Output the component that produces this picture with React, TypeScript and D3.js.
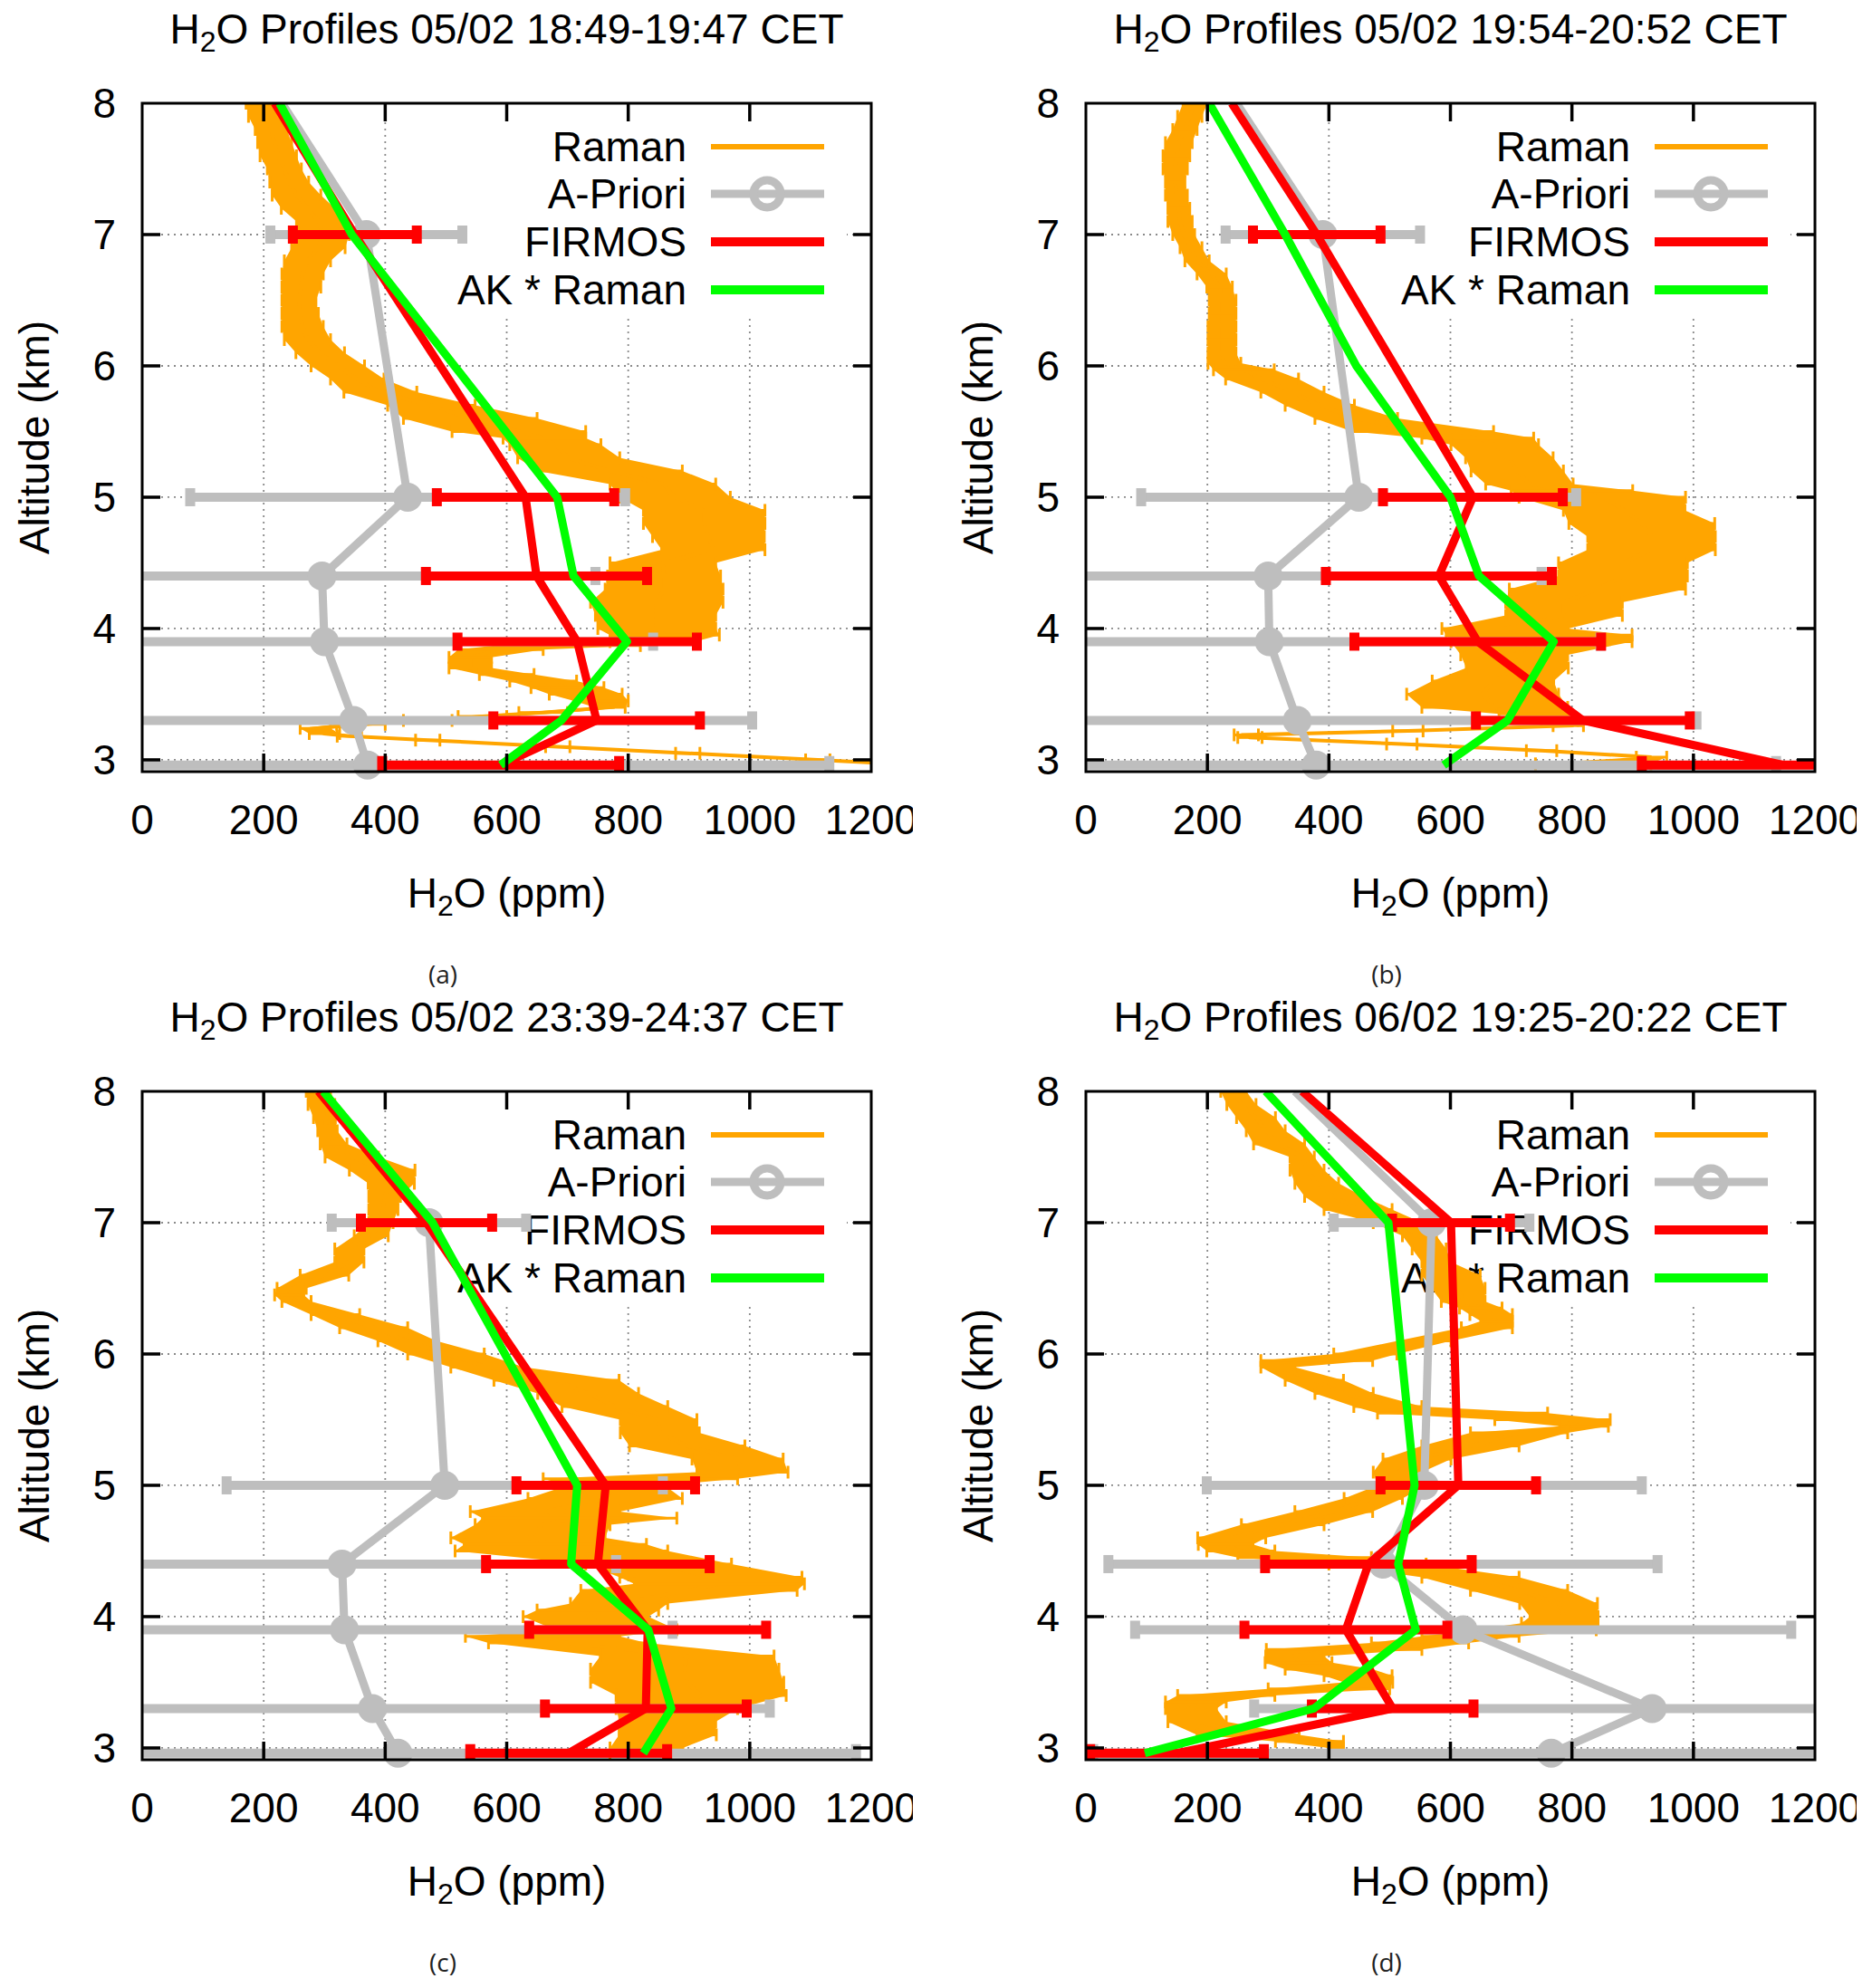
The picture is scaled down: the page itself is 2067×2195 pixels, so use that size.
import React from 'react';
import * as d3 from 'd3';

// ---------- axis / text data ----------
const X_TICKS = [0, 200, 400, 600, 800, 1000, 1200];
const Y_TICKS = [3, 4, 5, 6, 7, 8];
const X_GRID = [200, 400, 600, 800, 1000];
const Y_GRID = [3, 4, 5, 6, 7];
const TITLES = ['05/02 18:49-19:47', '05/02 19:54-20:52', '05/02 23:39-24:37', '06/02 19:25-20:22'];
const LETTERS = ['(a)', '(b)', '(c)', '(d)'];
const LEGEND = ['Raman', 'A-Priori', 'FIRMOS', 'AK * Raman'];

// ---------- Raman profiles: [altitude km, H2O ppm, error ppm] ----------
const RAMAN_A = [
  [8.0,196,25],[7.9,202,27],[7.8,212,26],[7.7,218,28],[7.6,224,30],[7.5,234,28],[7.4,242,32],[7.3,254,40],
  [7.2,273,44],[7.1,290,36],[7.0,297,44],[6.9,290,44],[6.8,272,38],[6.7,264,34],[6.6,262,32],[6.5,258,28],
  [6.4,260,30],[6.3,264,34],[6.2,272,38],[6.1,293,40],[6.0,322,44],[5.9,354,44],[5.8,392,60],[5.7,476,72],
  [5.6,540,110],[5.5,620,110],[5.45,662,68],[5.4,680,75],[5.3,702,84],[5.2,770,119],[5.1,857,87],[5.0,877,91],
  [4.9,925,100],[4.8,925,100],[4.7,932,92],[4.6,940,85],[4.5,857,87],[4.4,859,93],[4.3,859,97],[4.2,847,109],
  [4.1,845,99],[4.0,847,97],[3.95,860,90],[3.9,840,70],[3.87,700,120],[3.84,590,70],[3.78,540,35],[3.7,540,35],
  [3.65,600,45],[3.6,660,55],[3.55,700,60],[3.5,730,60],[3.45,755,45],[3.4,770,25],[3.36,660,40],[3.33,560,40],
  [3.3,470,40],[3.27,360,40],[3.24,285,25],[3.2,300,25],[3.18,341,20],[3.15,470,20],[3.1,684,20],[3.05,898,20],
  [3.0,1112,20],[2.96,1280,20],
];
const RAMAN_B = [
  [8.0,180,20],[7.9,171,20],[7.8,163,20],[7.7,153,22],[7.6,149,22],[7.5,147,20],[7.4,147,16],[7.3,149,18],
  [7.2,153,18],[7.1,155,20],[7.0,161,18],[6.9,173,18],[6.8,183,20],[6.7,207,24],[6.6,220,21],[6.5,225,22],
  [6.4,225,22],[6.3,224,23],[6.2,224,23],[6.1,224,23],[6.02,228,27],[5.97,260,50],[5.9,290,60],[5.8,340,52],
  [5.7,385,57],[5.6,445,68],[5.5,555,116],[5.45,645,92],[5.4,673,72],[5.3,697,72],[5.2,710,76],[5.1,730,72],
  [5.05,800,100],[5.0,850,137],[4.9,886,100],[4.8,915,120],[4.7,931,105],[4.6,931,105],[4.5,884,106],[4.4,884,106],
  [4.3,842,145],[4.2,787,96],[4.1,787,96],[4.0,690,104],[3.95,746,153],[3.9,750,149],[3.8,705,88],[3.7,710,84],
  [3.6,670,100],[3.5,653,125],[3.4,673,120],[3.35,737,57],[3.3,780,30],[3.26,794,25],[3.22,530,25],[3.19,264,20],
  [3.17,270,20],[3.12,520,25],[3.07,750,25],[3.02,931,25],[2.97,835,95],
];
const RAMAN_C = [
  [8.0,290,20],[7.9,295,22],[7.8,300,18],[7.7,305,16],[7.6,315,22],[7.5,345,44],[7.4,395,54],[7.3,410,38],
  [7.2,399,26],[7.1,397,24],[7.0,393,20],[6.9,377,28],[6.8,341,24],[6.7,341,24],[6.6,300,40],[6.5,246,24],
  [6.45,242,24],[6.4,254,24],[6.3,318,40],[6.2,381,56],[6.1,436,48],[6.0,500,63],[5.9,568,60],[5.8,682,103],
  [5.7,734,83],[5.6,778,87],[5.5,850,63],[5.4,852,65],[5.3,897,95],[5.2,980,75],[5.1,988,75],[5.05,820,160],
  [5.0,780,80],[4.9,762,127],[4.8,663,123],[4.75,720,160],[4.7,659,111],[4.6,635,127],[4.55,680,150],[4.5,690,175],
  [4.4,850,120],[4.3,936,150],[4.25,950,140],[4.2,900,178],[4.1,785,80],[4.05,750,100],[4.0,730,103],[3.9,780,100],
  [3.85,659,127],[3.8,700,130],[3.7,897,143],[3.6,893,155],[3.5,897,159],[3.4,920,140],[3.3,880,100],[3.2,865,79],
  [3.1,865,80],[3.0,830,60],[2.96,820,50],
];
const RAMAN_D = [
  [8.0,243,21],[7.9,256,24],[7.8,280,32],[7.7,296,32],[7.6,318,42],[7.5,356,20],[7.4,364,28],[7.3,380,36],
  [7.2,408,48],[7.1,448,56],[7.0,513,40],[6.9,549,28],[6.8,565,28],[6.7,577,24],[6.6,601,48],[6.5,613,44],
  [6.4,621,36],[6.35,650,35],[6.3,667,35],[6.25,676,26],[6.2,660,42],[6.1,557,44],[6.0,460,52],[5.95,380,92],
  [5.9,316,28],[5.8,376,48],[5.7,425,48],[5.6,497,56],[5.55,620,140],[5.5,768,95],[5.45,820,40],[5.4,713,80],
  [5.3,633,80],[5.2,545,56],[5.1,513,40],[5.0,520,40],[4.9,473,48],[4.8,408,64],[4.7,324,68],[4.6,240,56],
  [4.55,230,45],[4.5,255,56],[4.45,360,110],[4.4,480,80],[4.3,633,80],[4.2,713,80],[4.1,778,64],[4.0,787,56],
  [3.95,780,63],[3.9,740,100],[3.85,633,80],[3.8,550,80],[3.75,425,128],[3.7,344,48],[3.65,350,55],[3.6,400,72],
  [3.55,448,56],[3.5,465,40],[3.45,400,100],[3.4,231,80],[3.35,181,50],[3.3,173,42],[3.2,183,48],[3.1,267,84],
  [3.05,368,56],[3.0,412,12],
];

// ---------- A-Priori: [alt, ppm]  and errors [alt, delta] ----------
const APRIORI_A = [[8,230],[7,369],[5,437],[4.4,296],[3.9,300],[3.3,348],[2.96,371]];
const APRIORI_B = [[8,248],[7,390],[5,449],[4.4,300],[3.9,302],[3.3,348],[2.96,379]];
const APRIORI_C = [[8,298],[7,472],[5,498],[4.4,329],[3.9,333],[3.3,379],[2.96,421]];
const APRIORI_D = [[8,344],[7,569],[5,557],[4.4,489],[3.9,621],[3.3,932],[2.96,766]];
const APRIORI_ERR_A = [[7,158],[5,358],[4.4,450],[3.9,541],[3.3,656],[2.96,760]];
const APRIORI_ERR_B = [[7,160],[5,358],[4.4,450],[3.9,545],[3.3,657],[2.96,757]];
const APRIORI_ERR_C = [[7,160],[5,359],[4.4,451],[3.9,540],[3.3,654],[2.96,754]];
const APRIORI_ERR_D = [[7,161],[5,358],[4.4,452],[3.9,540],[3.3,655],[2.96,754]];

// ---------- FIRMOS retrieval ----------
const FIRMOS_A = [[8,218],[7,350],[5,631],[4.4,649],[3.9,716],[3.3,748],[2.96,590]];
const FIRMOS_B = [[8,240],[7,380],[5,637],[4.4,581],[3.9,645],[3.3,818],[2.96,1148]];
const FIRMOS_C = [[8,290],[7,468],[5,763],[4.4,750],[3.9,832],[3.3,829],[2.96,702]];
const FIRMOS_D = [[8,356],[7,601],[5,613],[4.4,465],[3.9,428],[3.3,505],[2.96,150]];
const FIRMOS_ERR_A = [[7,102],[5,146],[4.4,182],[3.9,197],[3.3,170],[2.96,195]];
const FIRMOS_ERR_B = [[7,105],[5,148],[4.4,186],[3.9,203],[3.3,176],[2.96,233]];
const FIRMOS_ERR_C = [[7,108],[5,147],[4.4,184],[3.9,195],[3.3,166],[2.96,162]];
const FIRMOS_ERR_D = [[7,97],[5,128],[4.4,170],[3.9,167],[3.3,133],[2.96,143]];

// ---------- AK * Raman ----------
const AK_A = [[8,226],[7,345],[5,683],[4.4,710],[3.9,798],[3.3,690],[2.96,590]];
const AK_B = [[8,203],[7,328],[6,445],[5,600],[4.4,647],[3.9,770],[3.3,694],[2.96,589]];
const AK_C = [[8,298],[7,478],[5,716],[4.4,706],[3.9,833],[3.3,871],[2.96,825]];
const AK_D = [[8,296],[7,498],[5,541],[4.4,514],[3.9,543],[3.3,375],[2.96,97]];

// ---------- layout ----------
const PANEL_X = [0, 1042, 0, 1042];
const PANEL_Y = [0, 0, 1091, 1091];
const FL = 157, FR = 962, FT = 114, FB = 852;
const FONT = "'Liberation Sans', Arial, sans-serif";
const FS = 46;
const ORANGE = '#ffa500', GRAY = '#bebebe', RED = '#ff0000', GREEN = '#00ff00';

type P = number[];

function ErrBars({ series, errs, x, y, color, w, capH, capW }: any) {
  return (
    <g>
      {errs.map((e: P, i: number) => {
        const c = series.find((p: P) => Math.abs(p[0] - e[0]) < 1e-6)[1];
        const yy = y(e[0]);
        const x0 = x(c - e[1]);
        const x1 = x(c + e[1]);
        return (
          <g key={i}>
            <line x1={x0} x2={x1} y1={yy} y2={yy} stroke={color} strokeWidth={w} />
            <line x1={x0} x2={x0} y1={yy - capH / 2} y2={yy + capH / 2} stroke={color} strokeWidth={capW} />
            <line x1={x1} x2={x1} y1={yy - capH / 2} y2={yy + capH / 2} stroke={color} strokeWidth={capW} />
          </g>
        );
      })}
    </g>
  );
}

function Panel(props: any) {
  const { idx, raman, apriori, aprioriErr, firmos, firmosErr, ak } = props;
  const x = d3.scaleLinear().domain([0, 1200]).range([FL, FR]);
  const y = d3.scaleLinear().domain([2.91, 8]).range([FB, FT]);
  const line = d3.line<P>().x(d => x(d[1])).y(d => y(d[0]));
  const area = d3.area<P>().y(d => y(d[0])).x0(d => x(d[1] - d[2])).x1(d => x(d[1] + d[2]));
  const clipId = `plotclip${idx}`;
  const panelClip = `panelclip${idx}`;
  const cx = (FL + FR) / 2;
  const cy = (FT + FB) / 2;
  const legendY = [162, 214, 267, 320];
  const legendColors = [ORANGE, GRAY, RED, GREEN];
  const legendW = [6, 9, 10, 10];

  return (
    <g transform={`translate(${PANEL_X[idx]},${PANEL_Y[idx]})`} clipPath={`url(#${panelClip})`}>
      <defs>
        <clipPath id={clipId}>
          <rect x={FL} y={FT} width={FR - FL} height={FB - FT} />
        </clipPath>
        <clipPath id={panelClip}>
          <rect x={-10} y={-10} width={1018} height={1120} />
        </clipPath>
      </defs>
      {/* grid */}
      <g stroke="#8a8a8a" strokeWidth={1.8} strokeDasharray="2,5">
        {X_GRID.map(v => (
          <line key={'gx' + v} x1={x(v)} x2={x(v)} y1={FT} y2={FB} />
        ))}
        {Y_GRID.map(v => (
          <line key={'gy' + v} x1={FL} x2={FR} y1={y(v)} y2={y(v)} />
        ))}
      </g>
      {/* opaque legend box */}
      <rect x={490} y={FT + 2} width={445} height={231} fill="#ffffff" />
      <g fontFamily={FONT} fontSize={FS} textAnchor="end">
        {LEGEND.map((t, i) => (
          <g key={t}>
            <text x={758} y={legendY[i]} dy="0.35em">{t}</text>
            <line x1={785} x2={910} y1={legendY[i]} y2={legendY[i]} stroke={legendColors[i]} strokeWidth={legendW[i]} />
          </g>
        ))}
        <circle cx={847} cy={legendY[1]} r={15} fill="none" stroke={GRAY} strokeWidth={9} />
      </g>
      {/* data */}
      <g clipPath={`url(#${clipId})`}>
        <path d={area(raman) || ''} fill={ORANGE} />
        <path d={line(raman) || ''} fill="none" stroke={ORANGE} strokeWidth={4} />
        <g stroke={ORANGE}>
          {raman.map((p: P, i: number) => {
            const yy = y(p[0]);
            const x0 = x(p[1] - p[2]);
            const x1 = x(p[1] + p[2]);
            return (
              <g key={i}>
                <line x1={x0} x2={x1} y1={yy} y2={yy} strokeWidth={3} />
                <line x1={x0} x2={x0} y1={yy - 7} y2={yy + 7} strokeWidth={3} />
                <line x1={x1} x2={x1} y1={yy - 7} y2={yy + 7} strokeWidth={3} />
              </g>
            );
          })}
        </g>
        <ErrBars series={apriori} errs={aprioriErr} x={x} y={y} color={GRAY} w={10} capH={20} capW={11} />
        <path d={line(apriori) || ''} fill="none" stroke={GRAY} strokeWidth={9} strokeLinejoin="round" />
      </g>
      <g fill={GRAY}>
        {apriori.filter((p: P) => p[0] < 7.5).map((p: P, i: number) => (
          <circle key={i} cx={x(p[1])} cy={y(p[0])} r={16} />
        ))}
      </g>
      <g clipPath={`url(#${clipId})`}>
        <ErrBars series={firmos} errs={firmosErr} x={x} y={y} color={RED} w={10} capH={20} capW={11} />
        <path d={line(firmos) || ''} fill="none" stroke={RED} strokeWidth={9} strokeLinejoin="round" />
        <path d={line(ak) || ''} fill="none" stroke={GREEN} strokeWidth={9} strokeLinejoin="round" />
      </g>
      {/* frame and ticks */}
      <g stroke="#000" strokeWidth={3.5}>
        {X_TICKS.slice(1, -1).map(v => (
          <g key={'tx' + v}>
            <line x1={x(v)} x2={x(v)} y1={FB} y2={FB - 20} />
            <line x1={x(v)} x2={x(v)} y1={FT} y2={FT + 20} />
          </g>
        ))}
        {Y_TICKS.slice(0, -1).map(v => (
          <g key={'ty' + v}>
            <line x1={FL} x2={FL + 20} y1={y(v)} y2={y(v)} />
            <line x1={FR} x2={FR - 20} y1={y(v)} y2={y(v)} />
          </g>
        ))}
      </g>
      <rect x={FL} y={FT} width={FR - FL} height={FB - FT} fill="none" stroke="#000" strokeWidth={3} />
      {/* labels */}
      <g fontFamily={FONT} fontSize={FS} fill="#000">
        {X_TICKS.map(v => (
          <text key={'lx' + v} x={x(v)} y={921} textAnchor="middle">{v}</text>
        ))}
        {Y_TICKS.map(v => (
          <text key={'ly' + v} x={128} y={y(v)} dy="0.35em" textAnchor="end">{v}</text>
        ))}
        <text x={cx} y={48} textAnchor="middle">
          H<tspan fontSize={32} dy={9}>2</tspan><tspan dy={-9}>{`O Profiles ${TITLES[idx]} CET`}</tspan>
        </text>
        <text x={cx} y={1002} textAnchor="middle">
          H<tspan fontSize={32} dy={9}>2</tspan><tspan dy={-9}>O (ppm)</tspan>
        </text>
        <text transform={`translate(38,${cy}) rotate(-90)`} textAnchor="middle" dy="0.35em">Altitude (km)</text>
      </g>
      <text x={489} y={1086} textAnchor="middle" fontFamily="'Open Sans', 'Noto Sans', sans-serif" fontSize={28} fill="#222">
        {LETTERS[idx]}
      </text>
    </g>
  );
}

const RAMANS = [RAMAN_A, RAMAN_B, RAMAN_C, RAMAN_D];
const APRIORIS = [APRIORI_A, APRIORI_B, APRIORI_C, APRIORI_D];
const APRIORI_ERRS = [APRIORI_ERR_A, APRIORI_ERR_B, APRIORI_ERR_C, APRIORI_ERR_D];
const FIRMOSES = [FIRMOS_A, FIRMOS_B, FIRMOS_C, FIRMOS_D];
const FIRMOS_ERRS = [FIRMOS_ERR_A, FIRMOS_ERR_B, FIRMOS_ERR_C, FIRMOS_ERR_D];
const AKS = [AK_A, AK_B, AK_C, AK_D];

export default function App() {
  return (
    <div style={{ position: 'absolute', left: 0, top: 0 }}>
      <svg width={2067} height={2195} viewBox="0 0 2067 2195" style={{ display: 'block', background: '#fff' }}>
        <rect width={2067} height={2195} fill="#fff" />
        {[0, 1, 2, 3].map(i => (
          <Panel
            key={i}
            idx={i}
            raman={RAMANS[i]}
            apriori={APRIORIS[i]}
            aprioriErr={APRIORI_ERRS[i]}
            firmos={FIRMOSES[i]}
            firmosErr={FIRMOS_ERRS[i]}
            ak={AKS[i]}
          />
        ))}
      </svg>
    </div>
  );
}
